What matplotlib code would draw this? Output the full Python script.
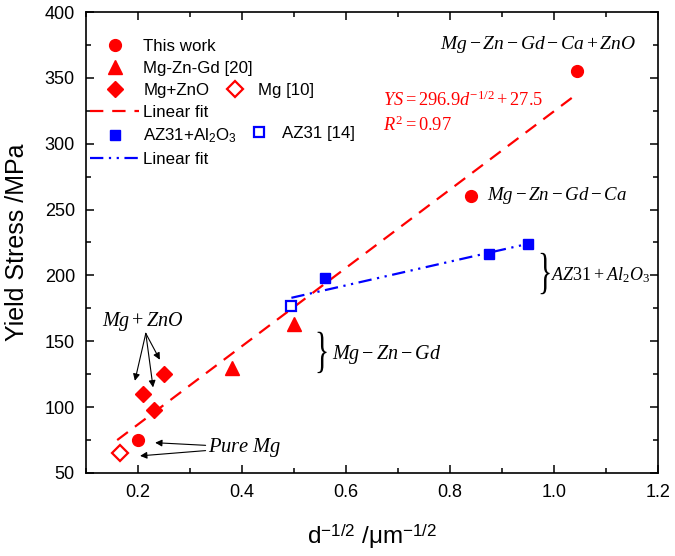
import matplotlib
matplotlib.use("Agg")
import matplotlib.pyplot as plt
from matplotlib.lines import Line2D
from matplotlib.ticker import MultipleLocator
from matplotlib.textpath import TextPath
from matplotlib.patches import PathPatch
from matplotlib.font_manager import FontProperties
from matplotlib.transforms import Affine2D, ScaledTranslation

plt.rcParams['font.family'] = ['Liberation Sans', 'DejaVu Sans']
plt.rcParams['mathtext.fontset'] = 'custom'
plt.rcParams['mathtext.rm'] = 'Liberation Serif'
plt.rcParams['mathtext.it'] = 'Liberation Serif:italic'
plt.rcParams['mathtext.bf'] = 'Liberation Serif:bold'

# data
this_work_x = [0.20, 0.84, 1.045]
this_work_y = [75, 260, 355]
mgzngd_x = [0.38, 0.50]
mgzngd_y = [130, 163]
mgzno_x = [0.21, 0.23, 0.25]
mgzno_y = [110, 98, 125]
mg10_x = [0.165]
mg10_y = [65]
az31al_x = [0.56, 0.875, 0.95]
az31al_y = [198, 216, 224]
az31_x = [0.495]
az31_y = [177]
red_fit_x = [0.16, 1.045]
red_fit_y = [75, 338]
blue_fit_x = [0.495, 0.95]
blue_fit_y = [183, 224]

red = '#ff0000'
blue = '#0000ff'
red_ls = (0, (6, 4))
blue_ls = (0, (6, 2.5, 1, 2.5, 1, 2.5))

fig = plt.figure(figsize=(6.75, 5.56), dpi=100)
ax = fig.add_axes([0.1274, 0.1493, 0.8474, 0.8291])

ax.plot(red_fit_x, red_fit_y, color=red, ls=red_ls, lw=1.6, zorder=2)
ax.plot(blue_fit_x, blue_fit_y, color=blue, ls=blue_ls, lw=1.6, zorder=2)
ax.plot(this_work_x, this_work_y, 'o', color=red, ms=8.5, ls='none', zorder=3)
ax.plot(mgzngd_x, mgzngd_y, '^', color=red, ms=10, ls='none', zorder=3)
ax.plot(mgzno_x, mgzno_y, 'D', color=red, ms=8.3, ls='none', zorder=3)
ax.plot(mg10_x, mg10_y, 'D', mfc='white', mec=red, mew=1.6, ms=7.8, ls='none', zorder=3)
ax.plot(az31al_x, az31al_y, 's', color=blue, ms=7.5, ls='none', zorder=3)
ax.plot(az31_x, az31_y, 's', mfc='white', mec=blue, mew=1.6, ms=7.5, ls='none', zorder=3)

ax.set_xlim(0.1, 1.2)
ax.set_ylim(50, 400)
ax.xaxis.set_major_locator(MultipleLocator(0.2))
ax.xaxis.set_minor_locator(MultipleLocator(0.1))
ax.yaxis.set_major_locator(MultipleLocator(50))
ax.yaxis.set_minor_locator(MultipleLocator(25))
ax.tick_params(which='both', direction='in', top=True, right=True, width=1.1)
ax.tick_params(which='major', length=6, labelsize=13)
ax.tick_params(axis='x', which='major', pad=8)
ax.tick_params(axis='y', which='major', pad=8)
ax.tick_params(which='minor', length=3.5)
for s in ax.spines.values():
    s.set_linewidth(1.2)

ax.set_ylabel('Yield Stress /MPa', fontsize=18, labelpad=11)
ax.set_xlabel(r'd$^{\mathregular{-1/2}}$ /$\mathregular{\mu}$m$^{\mathregular{-1/2}}$',
              fontsize=17.5, labelpad=15)

# annotations
ax.text(0.97, 375, r'$Mg-Zn-Gd-Ca+ZnO$', fontsize=14, ha='center', va='center')
ax.text(0.671, 333, r'$YS=296.9d^{-1/2}+27.5$', fontsize=13.2, color=red, va='center')
ax.text(0.671, 314, r'$R^2=0.97$', fontsize=13.2, color=red, va='center')
ax.text(0.871, 261, r'$Mg-Zn-Gd-Ca$', fontsize=13.6, va='center')
ax.text(0.994, 200, r'$AZ31+Al_2O_3$', fontsize=13, va='center')
ax.text(0.573, 140, r'$Mg-Zn-Gd$', fontsize=14.5, va='center')
ax.text(0.21, 165, r'$Mg+ZnO$', fontsize=14.5, ha='center', va='center')
ax.text(0.335, 69, r'$Pure\ Mg$', fontsize=14.8, va='center')


def brace(x, y):
    # thin, tall "}" drawn as a scaled glyph outline
    tp = TextPath((0, 0), '}', size=1, prop=FontProperties(family='Liberation Serif'))
    tr = (Affine2D().translate(-0.24, -0.25).scale(0.3, 0.5)
          + fig.dpi_scale_trans + ScaledTranslation(x, y, ax.transData))
    ax.add_patch(PathPatch(tp, transform=tr, color='black', lw=0))


brace(0.554, 140.4)
brace(0.983, 200.3)

arrow = dict(arrowstyle='-|>', color='black', lw=0.8, mutation_scale=10, shrinkA=0, shrinkB=0)
ax.annotate('', xy=(0.194, 120), xytext=(0.215, 156), arrowprops=arrow)
ax.annotate('', xy=(0.229, 115), xytext=(0.215, 156), arrowprops=arrow)
ax.annotate('', xy=(0.242, 136), xytext=(0.215, 156), arrowprops=arrow)
ax.annotate('', xy=(0.233, 73), xytext=(0.33, 71), arrowprops=arrow)
ax.annotate('', xy=(0.204, 63), xytext=(0.33, 67), arrowprops=arrow)

# legends
h1 = [
    Line2D([], [], marker='o', color=red, ms=8.5, ls='none'),
    Line2D([], [], marker='^', color=red, ms=10, ls='none'),
    Line2D([], [], marker='D', color=red, ms=8.3, ls='none'),
    Line2D([], [], color=red, ls=red_ls, lw=1.6),
    Line2D([], [], marker='s', color=blue, ms=7.5, ls='none'),
    Line2D([], [], color=blue, ls=blue_ls, lw=1.6),
]
l1 = ['This work', 'Mg-Zn-Gd [20]', 'Mg+ZnO', 'Linear fit',
      r'AZ31+Al$_\mathregular{2}$O$_\mathregular{3}$', 'Linear fit']
leg1 = ax.legend(h1, l1, loc='upper left', bbox_to_anchor=(0.007, 0.942), frameon=False,
                 fontsize=12.2, handlelength=2.9, handletextpad=0.25, borderpad=0,
                 borderaxespad=0, labelspacing=0.41)
ax.add_artist(leg1)
leg2 = ax.legend([Line2D([], [], marker='D', mfc='white', mec=red, mew=1.6, ms=7.8, ls='none')],
                 ['Mg [10]'], loc='upper left', bbox_to_anchor=(0.2465, 0.846), frameon=False,
                 fontsize=12.2, handlelength=1.0, handletextpad=0.85, borderpad=0, borderaxespad=0)
ax.add_artist(leg2)
ax.legend([Line2D([], [], marker='s', mfc='white', mec=blue, mew=1.6, ms=7.5, ls='none')],
          ['AZ31 [14]'], loc='upper left', bbox_to_anchor=(0.287, 0.753), frameon=False,
          fontsize=12.2, handlelength=1.0, handletextpad=0.85, borderpad=0, borderaxespad=0)

fig.savefig('out.png', dpi=100)
